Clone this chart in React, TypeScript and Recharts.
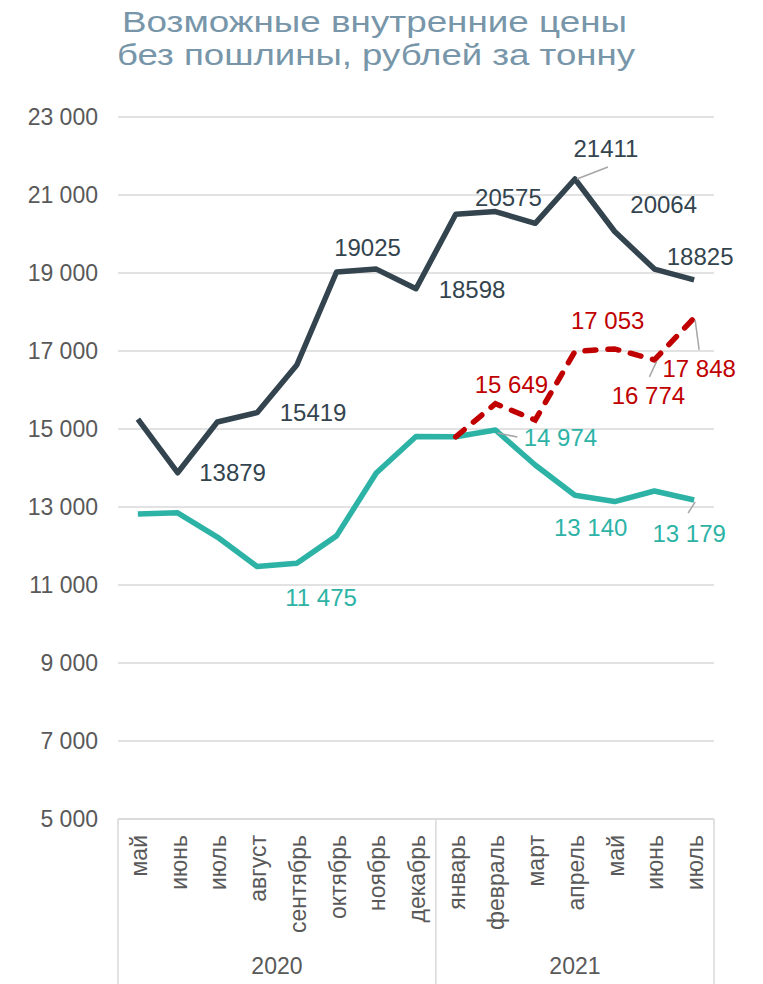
import React from 'react';
import { LineChart, Line, XAxis, YAxis, CartesianGrid, LabelList } from 'recharts';

const months = ['май', 'июнь', 'июль', 'август', 'сентябрь', 'октябрь', 'ноябрь', 'декабрь', 'январь', 'февраль', 'март', 'апрель', 'май', 'июнь', 'июль'];
const years = ['2020', '2021'];
const darkSeries = [15256, 13879, 15180, 15419, 16640, 19025, 19100, 18598, 20505, 20575, 20274, 21411, 20064, 19100, 18825];
const tealSeries = [12820, 12850, 12230, 11475, 11560, 12260, 13870, 14810, 14800, 14974, 14077, 13300, 13140, 13410, 13179];
const redSeries: (number | null)[] = [null, null, null, null, null, null, null, null, 14800, 15649, 15230, 16990, 17053, 16774, 17848];
const yTicks = [5000, 7000, 9000, 11000, 13000, 15000, 17000, 19000, 21000, 23000];

const data = months.map((m, i) => ({ m, dark: darkSeries[i], teal: tealSeries[i], red: redSeries[i] }));

const FONT = '"Liberation Sans", Arial, sans-serif';
const DARK = '#33444F';
const TEAL = '#2DB3A6';
const RED = '#C00000';
const GRID = '#D9D9D9';
const TXT = '#595959';

const PLOT_W = 596;
const HALF = PLOT_W / months.length / 2;

type Cfg = { dx: number; dy: number; leader?: [number, number, number, number] };

const darkCfg: Record<number, Cfg> = {
  1: { dx: 55, dy: 0 },
  3: { dx: 56, dy: 0 },
  5: { dx: 31, dy: -25 },
  7: { dx: 56, dy: 1 },
  9: { dx: 13, dy: -14 },
  11: { dx: 31, dy: -30, leader: [2, 0, 33, -12] },
  12: { dx: 49, dy: -27 },
  14: { dx: 6, dy: -23 },
};
const tealCfg: Record<number, Cfg> = {
  3: { dx: 64, dy: 31 },
  9: { dx: 65, dy: 7, leader: [2, 3, 22, 7] },
  12: { dx: -24, dy: 26 },
  14: { dx: -5, dy: 33, leader: [1, 2, -6, 13] },
};
const redCfg: Record<number, Cfg> = {
  9: { dx: 16, dy: -19 },
  12: { dx: -7, dy: -28 },
  13: { dx: -6, dy: 36, leader: [2, 2, -5, 17] },
  14: { dx: 5, dy: 51, leader: [1, 2, 5, 32] },
};

const plain = (v: number) => String(v);
const spaced = (v: number) => `${Math.floor(v / 1000)} ${String(v % 1000).padStart(3, '0')}`;

const mkLabel = (cfg: Record<number, Cfg>, color: string, fmt: (v: number) => string) => (props: any) => {
  const { x, y, index, value } = props;
  const c = cfg[index];
  if (!c || value == null || x == null || y == null) return null;
  return (
    <g key={`lbl-${index}`}>
      {c.leader && (
        <line x1={x + c.leader[0]} y1={y + c.leader[1]} x2={x + c.leader[2]} y2={y + c.leader[3]} stroke="#A6A6A6" strokeWidth={1.5} />
      )}
      <text x={x + c.dx} y={y + c.dy} textAnchor="middle" dominantBaseline="central" fontSize={24} fontFamily={FONT} fill={color}>
        {fmt(value)}
      </text>
    </g>
  );
};

const XTick = (props: any) => {
  const { x, y, payload, index } = props;
  const axisY = y - 16;
  const bottom = axisY + 165;
  return (
    <g>
      <text
        x={x + 9}
        y={y}
        transform={`rotate(-90, ${x + 9}, ${y})`}
        textAnchor="end"
        fontSize={23}
        fontFamily={FONT}
        fill={TXT}
      >
        {payload.value}
      </text>
      {index === 0 && <line x1={x - HALF} y1={axisY} x2={x - HALF} y2={bottom} stroke={GRID} strokeWidth={1.5} />}
      {(index === 7 || index === 14) && <line x1={x + HALF} y1={axisY} x2={x + HALF} y2={bottom} stroke={GRID} strokeWidth={1.5} />}
      {index === 3 && (
        <text x={x + HALF} y={axisY + 155} textAnchor="middle" fontSize={23} fontFamily={FONT} fill={TXT}>
          {years[0]}
        </text>
      )}
      {index === 11 && (
        <text x={x} y={axisY + 155} textAnchor="middle" fontSize={23} fontFamily={FONT} fill={TXT}>
          {years[1]}
        </text>
      )}
    </g>
  );
};

export default function App() {
  return (
    <div style={{ position: 'absolute', left: 0, top: 0, width: 763, height: 984, background: '#fff' }}>
      <LineChart width={763} height={984} data={data} margin={{ top: 117, right: 49, bottom: 0, left: 0 }}>
        <CartesianGrid vertical={false} stroke={GRID} strokeWidth={1.5} />
        <YAxis
          domain={[5000, 23000]}
          ticks={yTicks}
          width={118}
          tickSize={0}
          tickMargin={20}
          axisLine={false}
          tickLine={false}
          tickFormatter={spaced}
          tick={{ fontSize: 23, fill: TXT, fontFamily: FONT }}
        />
        <XAxis
          dataKey="m"
          interval={0}
          height={165}
          tickSize={0}
          tickMargin={16}
          tickLine={false}
          padding={{ left: HALF, right: HALF }}
          axisLine={{ stroke: GRID, strokeWidth: 1.5 }}
          tick={<XTick />}
        />
        <Line type="linear" dataKey="teal" stroke={TEAL} strokeWidth={5.5} dot={false} isAnimationActive={false} strokeLinejoin="round">
          <LabelList dataKey="teal" content={mkLabel(tealCfg, TEAL, spaced)} />
        </Line>
        <Line type="linear" dataKey="dark" stroke={DARK} strokeWidth={5.5} dot={false} isAnimationActive={false} strokeLinejoin="round">
          <LabelList dataKey="dark" content={mkLabel(darkCfg, DARK, plain)} />
        </Line>
        <Line
          type="linear"
          dataKey="red"
          stroke={RED}
          strokeWidth={5.5}
          strokeDasharray="11 12"
          strokeLinecap="round"
          dot={false}
          connectNulls={false}
          isAnimationActive={false}
        >
          <LabelList dataKey="red" content={mkLabel(redCfg, RED, spaced)} />
        </Line>
      </LineChart>
      <svg width={763} height={90} style={{ position: 'absolute', left: 0, top: 0 }}>
        <text x={374.5} y={32} textAnchor="middle" fontSize={30} fontFamily={FONT} fill="#7896A9" textLength={505} lengthAdjust="spacingAndGlyphs">
          Возможные внутренние цены
        </text>
        <text x={376} y={65} textAnchor="middle" fontSize={30} fontFamily={FONT} fill="#7896A9" textLength={518} lengthAdjust="spacingAndGlyphs">
          без пошлины, рублей за тонну
        </text>
      </svg>
    </div>
  );
}
